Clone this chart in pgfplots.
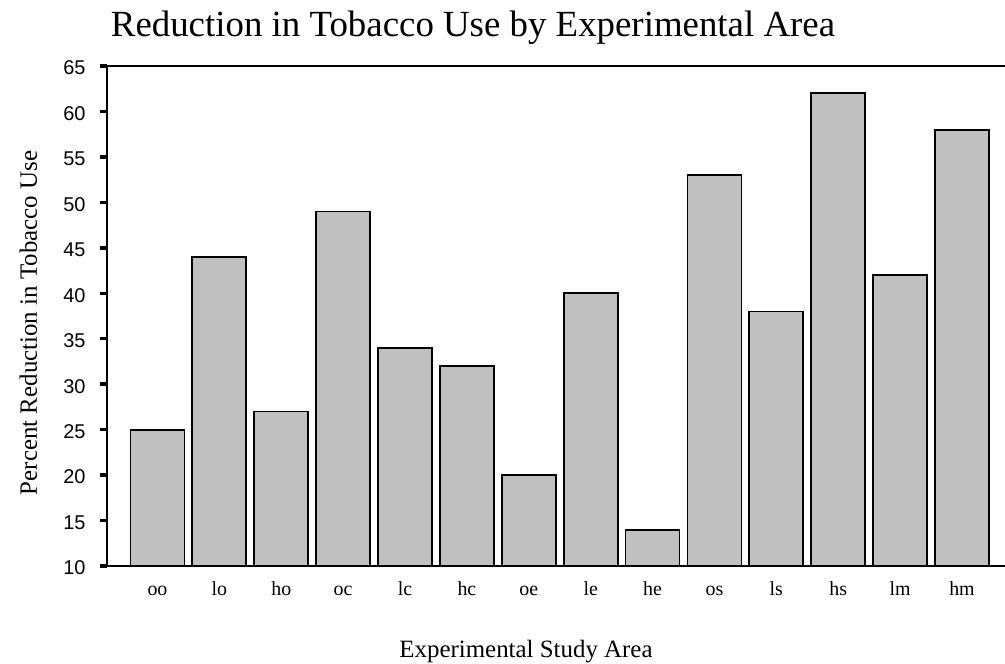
\documentclass[border=0pt]{standalone}
\usepackage{pgfplots}
\pgfplotsset{compat=1.18}
\usepackage{fontspec}
\setmainfont{Liberation Serif}
\newfontfamily\sansf{Liberation Sans}
\definecolor{barfill}{RGB}{192,192,192}
\begin{document}
\begin{tikzpicture}
\path[use as bounding box] (0,0) rectangle (1005bp,664bp);
\begin{axis}[
  at={(107bp,98bp)}, anchor=south west,
  width=898bp, height=500bp, scale only axis,
  xmin=-0.816, xmax=13.695, ymin=10, ymax=65,
  ytick={10,15,...,65},
  xtick={0,...,13},
  xticklabels={oo,lo,ho,oc,lc,hc,oe,le,he,os,ls,hs,lm,hm},
  axis lines=left,
  axis line style={-, line width=2bp},
  tick align=outside,
  major tick length=7bp,
  ytick style={line width=3.5bp, black},
  xtick style={draw=none},
  /pgf/number format/assume math mode=true,
  yticklabel style={font=\sansf\fontsize{20}{24}\selectfont, anchor=east, xshift=-11bp, yshift=-2bp},
  xticklabel style={font=\fontsize{20}{24}\selectfont, anchor=base, yshift=-22bp},
  title={Reduction in Tobacco Use by Experimental Area},
  title style={font=\fontsize{37}{42}\selectfont, at={(axis description cs:0.4076,1)}, anchor=base, yshift=24bp},
  xlabel={Experimental Study Area},
  xlabel style={font=\fontsize{25}{30}\selectfont, at={(axis description cs:0.4666,0)}, anchor=base, yshift=-91bp},
  ylabel={Percent Reduction in Tobacco Use},
  ylabel style={font=\fontsize{25}{30}\selectfont, at={(axis description cs:-0.078,0.486)}, anchor=base, rotate=0},
  ybar, bar width=0.873,
  clip=true,
]
\addplot[fill=barfill, draw=black, line width=1.8bp] coordinates {
  (0,25) (1,44) (2,27) (3,49) (4,34) (5,32) (6,20)
  (7,40) (8,14) (9,53) (10,38) (11,62) (12,42) (13,58)
};
\draw[line width=2bp] (rel axis cs:0,1) -- (rel axis cs:1,1);
\end{axis}
\end{tikzpicture}
\end{document}
